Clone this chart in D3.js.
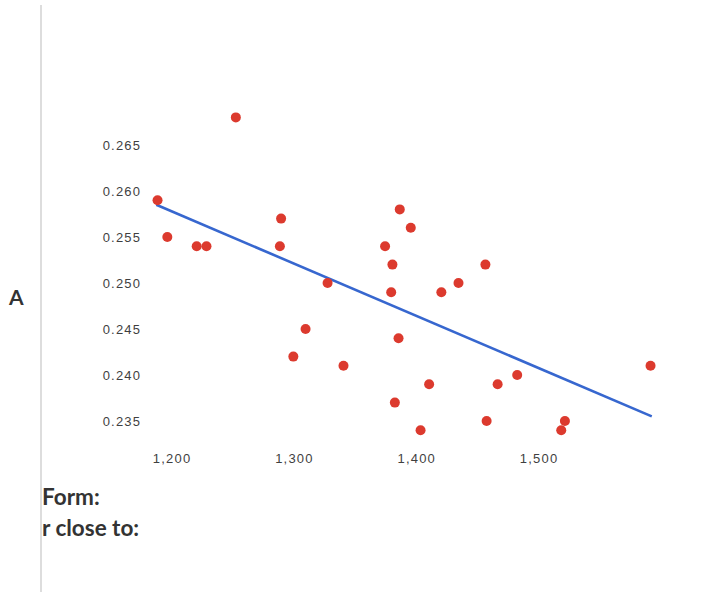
<!DOCTYPE html>
<html>
<head>
<meta charset="utf-8">
<script src="https://cdn.jsdelivr.net/npm/d3@7"></script>
<style>
  html, body { margin: 0; padding: 0; background: #fff; }
  svg { display: block; }
</style>
</head>
<body>
<svg id="chart" width="707" height="592"></svg>
<script>
// ---- data ----
const xValues = [1189, 1197, 1221, 1229, 1253, 1290, 1289, 1300, 1310, 1328,
                 1341, 1375, 1381, 1380, 1387, 1386, 1396, 1383, 1404, 1411,
                 1421, 1435, 1457, 1458, 1467, 1483, 1522, 1519, 1592];
const yValues = [0.259, 0.255, 0.254, 0.254, 0.268, 0.257, 0.254, 0.242, 0.245, 0.250,
                 0.241, 0.254, 0.252, 0.249, 0.258, 0.244, 0.256, 0.237, 0.234, 0.239,
                 0.249, 0.250, 0.252, 0.235, 0.239, 0.240, 0.235, 0.234, 0.241];
const trendX = [1188, 1593];
const trendY = [0.2585, 0.2355];
const xTicks = [1200, 1300, 1400, 1500];
const yTicks = [0.235, 0.240, 0.245, 0.250, 0.255, 0.260, 0.265];
const sideLabel = "A";
const promptLines = ["Form:", "r close to:"];

const svg = d3.select("#chart");

// page rule on the left
svg.append("line")
  .attr("x1", 41).attr("x2", 41).attr("y1", 5).attr("y2", 592)
  .attr("stroke", "#dddddd").attr("stroke-width", 2);

const x = d3.scaleLinear().domain([1200, 1500]).range([171, 538]);
const y = d3.scaleLinear().domain([0.235, 0.265]).range([421, 145]);

const tickFont = sel => sel
  .attr("fill", "#3f3f3f")
  .style("font-family", "'Liberation Sans', Arial, sans-serif")
  .style("font-size", "13px")
  .style("letter-spacing", "1.2px");

// y axis
const gy = svg.append("g")
  .attr("transform", "translate(140,0)")
  .call(d3.axisLeft(y).tickValues(yTicks).tickFormat(d3.format(".3f")).tickSize(0).tickPadding(0));
gy.select(".domain").remove();
gy.selectAll("text").attr("x", 1.2).attr("dy", "0.36em").call(tickFont);

// x axis
const gx = svg.append("g")
  .attr("transform", "translate(0,463)")
  .call(d3.axisBottom(x).tickValues(xTicks).tickFormat(d3.format(",")).tickSize(0).tickPadding(0));
gx.select(".domain").remove();
gx.selectAll("text").attr("y", 0).attr("dy", 0).attr("dx", "0.6px").call(tickFont);

// trend line
svg.append("path")
  .datum(trendX.map((d, i) => [d, trendY[i]]))
  .attr("fill", "none")
  .attr("stroke", "#3767cf")
  .attr("stroke-width", 2.6)
  .attr("d", d3.line().x(d => x(d[0])).y(d => y(d[1])));

// points
svg.append("g").selectAll("circle")
  .data(xValues.map((d, i) => [d, yValues[i]]))
  .join("circle")
  .attr("cx", d => x(d[0]))
  .attr("cy", d => y(d[1]))
  .attr("r", 5)
  .attr("fill", "#dc3a2e");

// side label
svg.append("text")
  .attr("x", 9).attr("y", 305)
  .attr("fill", "#333")
  .style("font-family", "Lato, sans-serif")
  .style("font-weight", "bold")
  .style("font-size", "21px")
  .text(sideLabel);

// prompts
svg.append("g").selectAll("text")
  .data(promptLines)
  .join("text")
  .attr("x", 42)
  .attr("y", (d, i) => 505 + i * 31)
  .attr("fill", "#333")
  .style("font-family", "Lato, sans-serif")
  .style("font-weight", "bold")
  .style("font-size", "22.5px")
  .text(d => d);
</script>
</body>
</html>
